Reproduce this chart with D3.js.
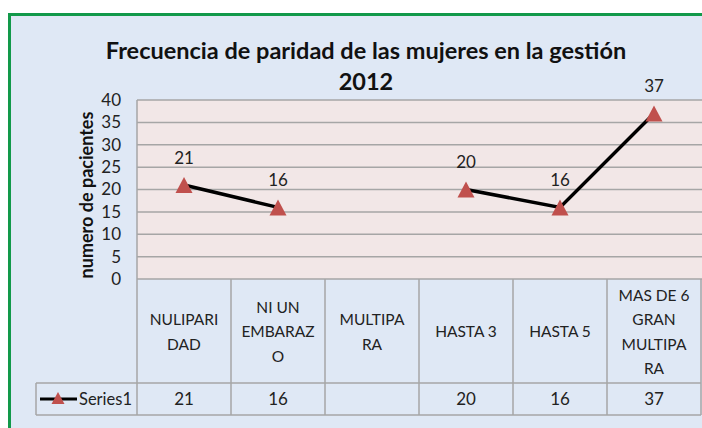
<!DOCTYPE html>
<html><head><meta charset="utf-8">
<script src="https://cdn.jsdelivr.net/npm/d3@7"></script>
<style>body{margin:0;background:#fff}svg{display:block}text{font-family:Lato,"Open Sans",sans-serif}</style>
</head><body>
<svg id="c" width="702" height="428"></svg>
<script>
const categories = [["NULIPARI","DAD"],["NI UN","EMBARAZ","O"],["MULTIPA","RA"],["HASTA 3"],["HASTA 5"],["MAS DE 6","GRAN","MULTIPA","RA"]];
const values = [21, 16, null, 20, 16, 37];
const yTicks = [0, 5, 10, 15, 20, 25, 30, 35, 40];
const seriesName = "Series1";
const titleLines = ["Frecuencia de paridad de las mujeres en la gestión", "2012"];
const yTitle = "numero de pacientes";

const svg = d3.select("#c");
const L = 137, R = 701, T = 100, B = 279, rowMid = 383, tabB = 415, legL = 36;
const grid = "#a6a6a6", red = "#c0504d";

svg.append("rect").attr("x", 9.5).attr("y", 14.5).attr("width", 720).attr("height", 440)
  .attr("fill", "#dfe8f5").attr("stroke", "#12994a").attr("stroke-width", 3);

const x = d3.scaleBand().domain(d3.range(categories.length)).range([L, R]);
const y = d3.scaleLinear().domain([0, 40]).range([B, T]);
const cx = i => x(i) + x.bandwidth() / 2;

svg.append("rect").attr("x", L).attr("y", T).attr("width", 702 - L).attr("height", B - T).attr("fill", "#f2e7e7");

svg.append("g").selectAll("line").data(yTicks).join("line")
  .attr("x1", L).attr("x2", 702).attr("y1", d => y(d)).attr("y2", d => y(d))
  .attr("stroke", grid).attr("stroke-width", 1.5);

const yAxis = svg.append("g").attr("transform", `translate(${L},0)`)
  .call(d3.axisLeft(y).tickValues(yTicks).tickSize(0).tickPadding(16));
yAxis.select(".domain").remove();
yAxis.selectAll("text").attr("font-size", 17).attr("fill", "#222").attr("font-family", "Lato");

const tl = svg.append("g").attr("stroke", grid).attr("stroke-width", 1.5);
tl.append("line").attr("x1", L).attr("x2", L).attr("y1", T).attr("y2", tabB);
d3.range(1, categories.length + 1).forEach(i => {
  const xv = i < categories.length ? x(i) : R;
  tl.append("line").attr("x1", xv).attr("x2", xv).attr("y1", B).attr("y2", tabB);
});
tl.append("line").attr("x1", legL).attr("x2", R).attr("y1", rowMid).attr("y2", rowMid);
tl.append("line").attr("x1", legL).attr("x2", R).attr("y1", tabB).attr("y2", tabB);
tl.append("line").attr("x1", legL).attr("x2", legL).attr("y1", rowMid).attr("y2", tabB);

const lh = 24.5, catMid = 332;
categories.forEach((lines, i) => {
  const t = svg.append("text").attr("text-anchor", "middle").attr("font-size", 15.5).attr("fill", "#222");
  lines.forEach((s, k) => {
    t.append("tspan").attr("x", cx(i)).attr("y", catMid + (k - (lines.length - 1) / 2) * lh).attr("dy", "0.35em").text(s);
  });
});

svg.append("g").selectAll("text").data(values).join("text")
  .attr("x", (d, i) => cx(i)).attr("y", 399).attr("dy", "0.35em").attr("text-anchor", "middle")
  .attr("font-size", 17).attr("fill", "#222").text(d => d == null ? "" : d);

function tri(w, h) {
  const p = d3.path();
  p.moveTo(0, -h / 2); p.lineTo(w / 2, h / 2); p.lineTo(-w / 2, h / 2); p.closePath();
  return p.toString();
}

svg.append("line").attr("x1", 40).attr("x2", 77).attr("y1", 399).attr("y2", 399).attr("stroke", "#000").attr("stroke-width", 3);
svg.append("path").attr("d", tri(13, 12)).attr("transform", "translate(58,398)").attr("fill", red);
svg.append("text").attr("x", 79).attr("y", 399).attr("dy", "0.35em").attr("font-size", 16.5).attr("fill", "#222").text(seriesName);

const line = d3.line().defined(d => d != null).x((d, i) => cx(i)).y(d => y(d));
svg.append("path").datum(values).attr("d", line).attr("fill", "none").attr("stroke", "#000").attr("stroke-width", 3.5);

const pts = values.map((v, i) => ({v, i})).filter(d => d.v != null);
svg.append("g").selectAll("path").data(pts).join("path")
  .attr("d", tri(17, 16)).attr("transform", d => `translate(${cx(d.i)},${y(d.v)})`).attr("fill", red);

svg.append("g").selectAll("text").data(pts).join("text")
  .attr("x", d => cx(d.i)).attr("y", d => y(d.v) - 27).attr("dy", "0.35em").attr("text-anchor", "middle")
  .attr("font-size", 17).attr("fill", "#222").text(d => d.v);

titleLines.forEach((s, k) => {
  svg.append("text").attr("x", 366).attr("y", 59 + k * 31).attr("text-anchor", "middle")
    .attr("font-size", 23.5).attr("font-weight", "bold").attr("fill", "#111").text(s);
});

svg.append("text").attr("transform", "translate(93,195) rotate(-90)").attr("text-anchor", "middle")
  .attr("font-size", 18).attr("font-weight", "bold").attr("fill", "#111").text(yTitle);
</script>
</body></html>
